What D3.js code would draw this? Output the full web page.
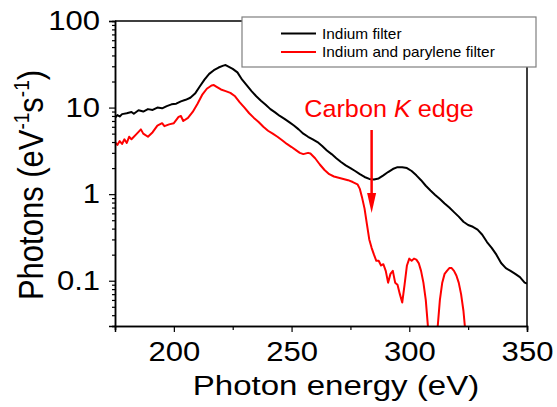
<!DOCTYPE html>
<html>
<head>
<meta charset="utf-8">
<script src="https://cdn.jsdelivr.net/npm/d3@7.9.0/dist/d3.min.js"></script>
<style>
  body { margin: 0; background: #fff; }
  svg { font-family: "Liberation Sans", Arial, sans-serif; }
</style>
</head>
<body>
<svg width="557" height="407"></svg>
<script>
// spectrum (eV, photons per eV per s)
let blackEnergy = [175,176,177,178,180,182,183,185,187,189,191,193,195,197,199,201,203,205,207,209,211,213,215,217,219,221,222,223,225,227,229,231,233,235,237,239,241,243,245,247,249,251,253,255,257,259,261,263,265,267,269,271,273,275,277,279,281,283,285,287,289,291,293,295,297,299,301,303,305,307,309,311,313,315,317,319,321,323,325,327,329,331,333,335,337,339,341,343,345,347,349,350];
let blackPhotons = [7.6,8.2,7.9,8.4,8.6,8.9,8.5,9.3,9.0,9.6,9.4,10.0,9.8,10.4,10.9,11.1,11.8,12.3,13.0,14.5,17.5,21,24.5,27,29,30.5,31,30,28,25.5,21,18,15.5,13.5,12.0,10.8,9.6,8.8,8.0,7.4,6.8,6.2,5.6,5.0,4.6,4.3,4.0,3.6,3.2,2.9,2.6,2.35,2.15,2.0,1.85,1.7,1.58,1.5,1.48,1.52,1.65,1.8,1.95,2.05,2.05,2.0,1.85,1.65,1.45,1.25,1.1,0.98,0.88,0.78,0.7,0.62,0.55,0.48,0.44,0.42,0.39,0.34,0.28,0.24,0.2,0.16,0.14,0.13,0.12,0.11,0.095,0.093];

let redEnergy = [175,176,177,178,179,180,181,182,184,186,187,189,191,193,195,196,198,200,202,203,204,206,208,210,212,214,216,217,218,220,222,224,226,228,230,232,234,236,238,240,242,244,246,248,250,252,253.5,255,257,258,260,262,264,266,268,270,272,274,276,278,279,280,281,282,283,284,285,286,287,288,289,290,291,292,293,294,295,296,297,298,299,300,301,302,303,304,305,306,307,308,310,312,313,314,315,316,317,318,319,320,321,322,323,323.7];
let redPhotons = [4.0,3.7,4.1,3.8,4.3,3.9,4.6,4.3,4.9,5.6,5.0,4.6,5.2,6.2,6.6,6.1,6.4,6.6,7.8,8.0,7.0,7.6,8.9,11,14,16.5,18,18.2,17.5,16.2,15.5,14.8,13.5,11.5,10.0,8.6,7.6,6.8,6.0,5.4,5.0,4.6,4.2,3.8,3.5,3.2,3.0,2.9,3.0,2.95,2.6,2.2,1.9,1.7,1.6,1.55,1.5,1.45,1.38,1.3,1.15,0.9,0.68,0.45,0.3,0.24,0.2,0.17,0.17,0.15,0.155,0.13,0.095,0.12,0.13,0.095,0.09,0.07,0.056,0.09,0.15,0.18,0.17,0.18,0.175,0.16,0.13,0.095,0.06,0.028,null,0.028,0.06,0.095,0.12,0.13,0.14,0.14,0.13,0.115,0.095,0.07,0.045,0.028];

let xTicks = [200, 250, 300, 350];
let xMinor = [175, 225, 275, 325];
let yTicks = [0.1, 1, 10, 100];
let yTickLabels = ['0.1', '1', '10', '100'];

let seriesNames = ['Indium filter', 'Indium and parylene filter'];
let seriesColors = ['#000000', '#ff0000'];

let edgeEnergy = 284;

const svg = d3.select('svg');
const pLeft = 115, pRight = 527, pTop = 21, pBottom = 326;

let x = d3.scaleLinear().domain([175, 350]).range([pLeft, pRight]);
let y = d3.scaleLog().domain([0.03, 100]).range([pBottom, pTop]);

// minor log ticks 2..9 per decade
let yMinor = [];
[0.01, 0.1, 1, 10].forEach(d => {
  for (let k = 2; k <= 9; k++) {
    let v = d * k;
    if (v >= 0.03 && v < 100) yMinor.push(v);
  }
});

svg.append('clipPath').attr('id', 'plot')
  .append('rect').attr('x', pLeft).attr('y', pTop)
  .attr('width', pRight - pLeft).attr('height', pBottom - pTop);

// frame top / right
svg.append('path')
  .attr('d', `M${pLeft},${pTop}H${pRight}V${pBottom}`)
  .attr('fill', 'none').attr('stroke', '#000').attr('stroke-width', 1.5);

let line = d3.line()
  .defined(d => d[1] != null)
  .x(d => x(d[0]))
  .y(d => y(d[1]));

let series = [
  d3.zip(blackEnergy, blackPhotons),
  d3.zip(redEnergy, redPhotons)
];

series.forEach((s, i) => {
  svg.append('path')
    .datum(s)
    .attr('clip-path', 'url(#plot)')
    .attr('fill', 'none')
    .attr('stroke', seriesColors[i])
    .attr('stroke-width', 2)
    .attr('stroke-linejoin', 'round')
    .attr('d', line);
});

// axes
let xAxis = svg.append('g').attr('transform', `translate(0,${pBottom})`)
  .call(d3.axisBottom(x).tickValues(xTicks).tickSize(6).tickPadding(10).tickFormat(d3.format('d')));
svg.append('g').attr('transform', `translate(0,${pBottom})`)
  .call(d3.axisBottom(x).tickValues(xMinor).tickSize(4).tickFormat(''));

let yAxis = svg.append('g').attr('transform', `translate(${pLeft},0)`)
  .call(d3.axisLeft(y).tickValues(yTicks).tickSize(6).tickPadding(7).tickFormat((d, i) => yTickLabels[i]));
svg.append('g').attr('transform', `translate(${pLeft},0)`)
  .call(d3.axisLeft(y).tickValues(yMinor).tickSize(3).tickFormat(''));

svg.selectAll('.domain').attr('stroke-width', 1.5);
svg.selectAll('.tick line').attr('stroke-width', 1.2);
[xAxis, yAxis].forEach(a => {
  a.selectAll('text')
    .attr('font-size', 27)
    .attr('font-family', '"Liberation Sans", Arial, sans-serif')
    .attr('fill', '#000')
    .attr('transform', 'scale(1.15,1)');
});

// axis titles
svg.append('text')
  .attr('transform', 'translate(336,395) scale(1.18,1)')
  .attr('text-anchor', 'middle')
  .attr('font-size', 28)
  .text('Photon energy (eV)');

let yTitle = svg.append('text')
  .attr('transform', 'translate(43,185) scale(1.15,1) rotate(-90)')
  .attr('text-anchor', 'middle')
  .attr('font-size', 31);
yTitle.append('tspan').text('Photons (eV');
yTitle.append('tspan').attr('font-size', 19).attr('dy', -12).text('-1');
yTitle.append('tspan').attr('dy', 12).text('s');
yTitle.append('tspan').attr('font-size', 19).attr('dy', -12).text('-1');
yTitle.append('tspan').attr('dy', 12).text(')');

// legend
let legend = svg.append('g');
legend.append('rect')
  .attr('x', 242).attr('y', 17).attr('width', 294).attr('height', 50)
  .attr('fill', '#fff').attr('stroke', '#7f7f7f').attr('stroke-width', 1.2);
seriesNames.forEach((name, i) => {
  let ly = 33.5 + i * 18.5;
  legend.append('line')
    .attr('x1', 281).attr('x2', 316).attr('y1', ly).attr('y2', ly)
    .attr('stroke', seriesColors[i]).attr('stroke-width', 2);
  legend.append('text')
    .attr('transform', `translate(322,${ly + 5}) scale(1.1,1)`)
    .attr('font-size', 14)
    .text(name);
});

// carbon K edge annotation
let note = svg.append('text')
  .attr('transform', 'translate(389,117) scale(1.05,1)')
  .attr('text-anchor', 'middle')
  .attr('font-size', 24)
  .attr('fill', '#ff0000');
note.append('tspan').text('Carbon ');
note.append('tspan').attr('font-style', 'italic').text('K');
note.append('tspan').text(' edge');

let ax = x(edgeEnergy);
svg.append('line')
  .attr('x1', ax).attr('x2', ax).attr('y1', 130).attr('y2', 196)
  .attr('stroke', '#ff0000').attr('stroke-width', 2.5);
svg.append('path')
  .attr('d', `M${ax - 4.5},193 L${ax + 4.5},193 L${ax},213 Z`)
  .attr('fill', '#ff0000');
</script>
</body>
</html>
